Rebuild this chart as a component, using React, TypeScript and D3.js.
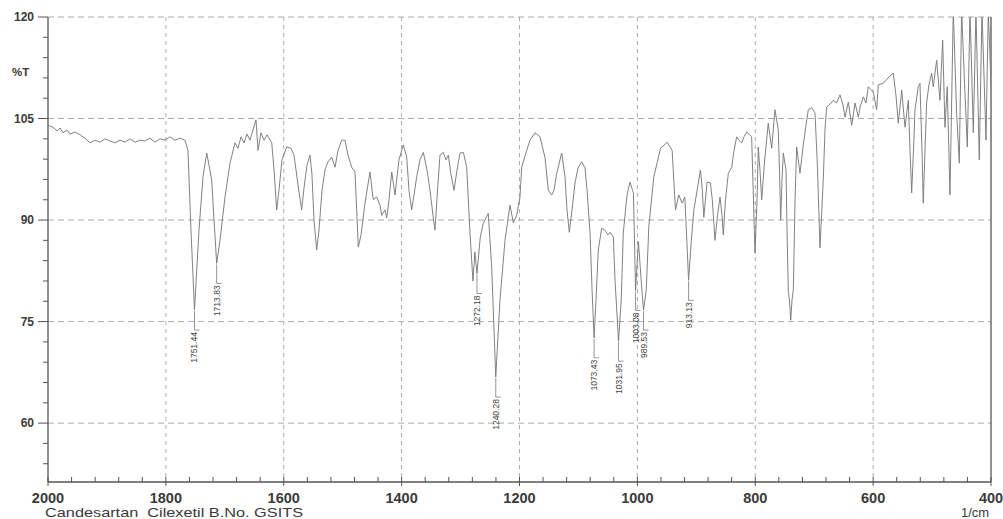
import React from "react";
import * as d3 from "d3";

const wavenumbers = [
  2000, 1991.5, 1984.7, 1979.6, 1974.5, 1967.8, 1962.7, 1954.2, 1945.7, 1937.2, 1928.7, 1920.3, 1911.8, 1903.3, 1894.8, 1886.3, 1877.8, 1869.4, 1860.9, 1852.4, 1843.9, 1835.4, 1826.9, 1818.5, 1810.0, 1801.5, 1793.0, 1784.5, 1776.0, 1767.6,
  1762.5, 1757.4, 1751.44, 1743.8, 1737.0, 1730.7, 1726.8, 1722.2, 1718.3, 1713.83, 1708.2, 1699.7, 1691.2, 1682.7, 1677.6, 1672.5, 1667.4, 1662.4, 1657.3, 1652.2, 1647.1, 1643.7, 1638.6, 1633.5, 1628.4, 1620.4, 1616.5, 1612.0, 1608.1, 1603.0,
  1595.0, 1587.7, 1582.6, 1575.8, 1569.6, 1565.7, 1560.6, 1555.5, 1552.1, 1548.7, 1544.1, 1540.2, 1535.1, 1530.0, 1524.9, 1518.6, 1513.0, 1507.9, 1501.7, 1496.1, 1491.0, 1484.7, 1479.1, 1473.5, 1468.9, 1462.1, 1453.7, 1448.1, 1442.3, 1436.7,
  1433.8, 1428.2, 1425.3, 1421.4, 1416.8, 1411.2, 1404.5, 1397.2, 1391.4, 1387.5, 1382.9, 1379.0, 1374.4, 1368.8, 1363.2, 1356.9, 1351.8, 1346.8, 1343.4, 1339.1, 1334.9, 1329.3, 1324.7, 1320.8, 1316.2, 1311.1, 1306.0, 1300.9, 1295.3, 1289.6,
  1284.0, 1279.0, 1275.7, 1272.18, 1266.5, 1261.5, 1253.0, 1247.2, 1240.28, 1233.1, 1224.6, 1216.1, 1210.5, 1204.8, 1199.2, 1196.3, 1187.8, 1182.2, 1173.7, 1165.2, 1156.7, 1151.1, 1145.4, 1141.5, 1136.9, 1128.4, 1122.8, 1119.4, 1115.5, 1110.9,
  1105.8, 1100.7, 1094.5, 1088.8, 1085.4, 1080.3, 1076.9, 1073.43, 1070.2, 1066.3, 1060.5, 1054.9, 1049.9, 1046.4, 1040.8, 1037.9, 1031.95, 1027.4, 1023.9, 1017.6, 1012.5, 1006.8, 1004.5, 1003.08, 998.2, 993.0, 989.53, 984.9, 980.6, 972.1,
  960.7, 949.5, 941.0, 938.2, 935.3, 929.7, 924.1, 919.5, 916.1, 913.13, 908.4, 904.2, 898.6, 893.0, 889.8, 887.3, 881.7, 876.1, 872.9, 868.3, 864.1, 859.8, 856.4, 854.2, 850.5, 845.7, 839.9, 836.0, 831.5, 827.6,
  823.0, 819.1, 814.6, 810.6, 806.1, 803.0, 800.4, 797.0, 794.9, 792.0, 789.1, 786.0, 783.5, 777.9, 772.1, 766.5, 760.9, 758.9, 756.8, 754.6, 752.4, 747.8, 746.1, 743.9, 741.9, 739.8, 737.6, 735.4, 732.5, 729.7,
  724.1, 718.5, 713.9, 710.0, 704.3, 698.6, 694.7, 690.1, 684.6, 681.7, 678.8, 673.2, 667.6, 662.1, 656.2, 651.1, 647.7, 642.1, 636.3, 630.8, 625.1, 622.2, 616.7, 612.1, 608.2, 599.7, 594.0, 591.2, 582.8, 574.8,
  565.8, 561.3, 557.3, 551.5, 545.9, 540.3, 537.4, 534.6, 531.5, 529.0, 523.4, 520.5, 517.1, 514.9, 512.0, 509.2, 505.3, 500.7, 498.0, 492.2, 486.6, 482.0, 478.1, 474.2, 469.6, 464.0, 458.3, 453.8, 449.8, 444.2,
  440.2, 435.6, 430.0, 425.5, 419.9, 415.3, 408.5, 404.6, 400,
];

const transmittance = [
  104.0, 103.7, 103.2, 103.6, 102.9, 103.3, 102.7, 103.0, 102.6, 102.1, 101.4, 101.8, 101.5, 102.0, 101.7, 101.4, 101.8, 101.5, 102.0, 101.5, 101.8, 101.7, 102.1, 101.5, 102.0, 101.8, 102.3, 101.8, 102.1, 101.8,
  100.3, 88.5, 76.7, 88.5, 96.4, 99.9, 98.1, 95.9, 90.0, 83.6, 87.0, 93.4, 98.4, 101.4, 100.6, 102.3, 101.4, 102.7, 101.8, 103.3, 104.8, 100.3, 102.9, 101.8, 102.6, 101.4, 97.4, 91.5, 94.4, 98.9,
  100.8, 100.6, 99.6, 95.2, 91.5, 94.7, 98.1, 99.6, 96.7, 90.0, 85.6, 88.5, 94.4, 97.4, 98.6, 99.3, 97.8, 100.3, 101.8, 101.8, 99.6, 97.8, 97.1, 86.0, 87.8, 92.5, 97.1, 93.0, 93.4, 92.2,
  90.7, 91.5, 90.3, 93.0, 97.1, 93.7, 98.9, 101.1, 99.3, 94.4, 91.5, 93.7, 96.4, 98.9, 100.0, 97.4, 94.4, 90.7, 88.5, 94.4, 99.6, 100.0, 98.9, 99.6, 96.7, 94.4, 97.4, 99.9, 100.0, 97.8,
  88.1, 81.0, 85.3, 82.1, 87.5, 89.5, 91.0, 83.1, 66.8, 78.2, 87.0, 92.2, 89.6, 90.7, 93.4, 97.8, 100.3, 101.8, 102.9, 102.3, 99.2, 94.4, 93.7, 94.4, 96.9, 99.9, 96.4, 91.5, 88.2, 91.5,
  95.5, 97.7, 98.6, 97.7, 94.4, 88.1, 79.7, 72.6, 78.2, 85.6, 88.8, 88.5, 87.8, 88.2, 87.5, 81.1, 72.1, 78.2, 88.1, 93.7, 95.6, 94.0, 85.6, 79.6, 86.8, 80.4, 76.7, 79.7, 89.0, 96.4,
  100.6, 101.5, 100.3, 95.9, 91.5, 93.7, 92.5, 93.4, 87.0, 81.1, 87.0, 91.5, 94.4, 97.4, 94.4, 90.4, 95.6, 95.5, 93.0, 87.0, 90.7, 93.4, 90.7, 87.8, 93.0, 96.9, 97.8, 100.3, 102.3, 101.8,
  101.4, 102.3, 103.0, 102.7, 102.3, 93.0, 85.1, 93.0, 100.8, 97.4, 93.0, 96.6, 99.3, 104.3, 100.6, 106.3, 103.3, 97.4, 90.0, 95.9, 99.9, 97.4, 88.5, 79.4, 78.2, 75.2, 78.2, 79.7, 93.0, 100.8,
  96.9, 101.1, 104.0, 106.3, 106.6, 105.8, 98.4, 85.9, 95.9, 103.3, 106.7, 107.1, 107.7, 107.3, 108.5, 107.0, 105.2, 107.4, 104.0, 107.3, 105.2, 106.7, 108.2, 107.3, 109.7, 108.9, 106.3, 110.0, 110.2, 111.0,
  111.7, 108.5, 104.3, 109.2, 103.7, 107.7, 100.3, 94.0, 100.3, 106.3, 109.7, 110.2, 100.3, 92.5, 100.3, 107.3, 110.0, 111.7, 109.7, 113.6, 107.7, 116.6, 103.7, 109.7, 93.7, 121.0, 105.8, 98.4, 121.0, 108.8,
  100.8, 121.0, 102.9, 121.0, 98.9, 121.0, 101.8, 121.0, 110.0,
];

const peakLabels = ["1751.44", "1713.83", "1272.18", "1240.28", "1073.43", "1031.95", "1003.08", "989.53", "913.13"];

const yMajorTicks = [120, 105, 90, 75, 60];
const yMinorTicks = [117, 114, 111, 108, 102, 99, 96, 93, 87, 84, 81, 78, 72, 69, 66, 63, 57, 54];
const xMajorTicks = [2000, 1800, 1600, 1400, 1200, 1000, 800, 600, 400];
const xMinorTicks = [1960, 1920, 1880, 1840, 1760, 1720, 1680, 1640, 1560, 1520, 1480, 1440, 1360, 1320, 1280, 1240, 1160, 1120, 1080, 1040, 960, 920, 880, 840, 760, 720, 680, 640, 560, 520, 480, 440];

const yAxisLabel = "%T";
const xAxisUnit = "1/cm";
const sampleName = "Candesartan  Cilexetil B.No. GSITS";

export default function App() {
  const W = 1003, H = 519;
  const left = 48, right = 991, top = 17, bottom = 482;
  const x = d3.scaleLinear().domain([2000, 400]).range([left, right]);
  const y = d3.scaleLinear().domain([51.3, 120]).range([bottom, top]);

  const pts: [number, number][] = wavenumbers.map((w, i) => [w, transmittance[i]]);
  const line = d3.line<[number, number]>().x(d => x(d[0])).y(d => y(d[1]));

  const font = "'Liberation Sans', Arial, sans-serif";
  const gridColor = "#ababab";
  const axisColor = "#555";
  const textColor = "#3a3a3a";

  return (
    <svg width={W} height={H} style={{ position: "absolute", left: 0, top: 0, background: "#fff" }}>
      <defs>
        <clipPath id="plot">
          <rect x={left} y={top} width={right - left} height={bottom - top} />
        </clipPath>
      </defs>
      {yMajorTicks.map(t => (
        <line key={"hg" + t} x1={left} x2={right} y1={y(t)} y2={y(t)} stroke={gridColor} strokeWidth={1} strokeDasharray="6,4" />
      ))}
      {xMajorTicks.filter(t => t !== 2000 && t !== 400).map(t => (
        <line key={"vg" + t} x1={x(t)} x2={x(t)} y1={top} y2={bottom} stroke={gridColor} strokeWidth={1} strokeDasharray="4,4" />
      ))}
      <line x1={left} x2={left} y1={top} y2={bottom} stroke={axisColor} strokeWidth={1.3} />
      <line x1={right} x2={right} y1={top} y2={bottom} stroke={axisColor} strokeWidth={1.3} />
      <line x1={left} x2={right} y1={bottom} y2={bottom} stroke={axisColor} strokeWidth={1.3} />
      {yMajorTicks.map(t => (
        <g key={"yt" + t}>
          <line x1={left - 10} x2={left} y1={y(t)} y2={y(t)} stroke={axisColor} strokeWidth={1} />
          <text x={34} y={y(t)} dy="0.36em" textAnchor="end" fontFamily={font} fontSize={12} fontWeight="bold" fill={textColor}>{t}</text>
        </g>
      ))}
      {yMinorTicks.map(t => (
        <line key={"ym" + t} x1={left - 5} x2={left} y1={y(t)} y2={y(t)} stroke={axisColor} strokeWidth={1} />
      ))}
      <text x={12} y={72} dy="0.36em" fontFamily={font} fontSize={11.5} fontWeight="bold" fill={textColor}>{yAxisLabel}</text>
      {xMajorTicks.map(t => (
        <g key={"xt" + t}>
          <line x1={x(t)} x2={x(t)} y1={bottom - 5} y2={bottom + 4} stroke={axisColor} strokeWidth={1} />
          <text x={x(t)} y={498} dy="0.36em" textAnchor="middle" fontFamily={font} fontSize={14.5} fontWeight="bold" fill={textColor}>{t}</text>
        </g>
      ))}
      {xMinorTicks.map(t => (
        <line key={"xm" + t} x1={x(t)} x2={x(t)} y1={bottom - 5} y2={bottom} stroke={axisColor} strokeWidth={1} />
      ))}
      <text x={975} y={512} dy="0.36em" textAnchor="middle" fontFamily={font} fontSize={13} fill={textColor}>{xAxisUnit}</text>
      <text x={45} y={512} dy="0.36em" fontFamily={font} fontSize={13} fill={textColor} textLength={258} lengthAdjust="spacingAndGlyphs" style={{ whiteSpace: "pre" }}>{sampleName}</text>
      <path d={line(pts) || ""} fill="none" stroke="#7a7a7a" strokeWidth={0.95} clipPath="url(#plot)" />
      {peakLabels.map(lbl => {
        const wn = +lbl;
        const idx = wavenumbers.indexOf(wn);
        const tMin = transmittance[idx];
        const px = x(wn);
        const py = y(tMin);
        const lt = py + 22;
        return (
          <g key={lbl}>
            <line x1={px} x2={px} y1={py + 1} y2={lt - 2} stroke="#7a7a7a" strokeWidth={0.8} />
            <line x1={px} x2={px + 5} y1={lt - 2} y2={lt - 2} stroke="#7a7a7a" strokeWidth={0.8} />
            <text transform={`translate(${px + 3},${lt}) rotate(-90)`} textAnchor="end" fontFamily={font} fontSize={8.5} fill="#444">{lbl}</text>
          </g>
        );
      })}
    </svg>
  );
}
